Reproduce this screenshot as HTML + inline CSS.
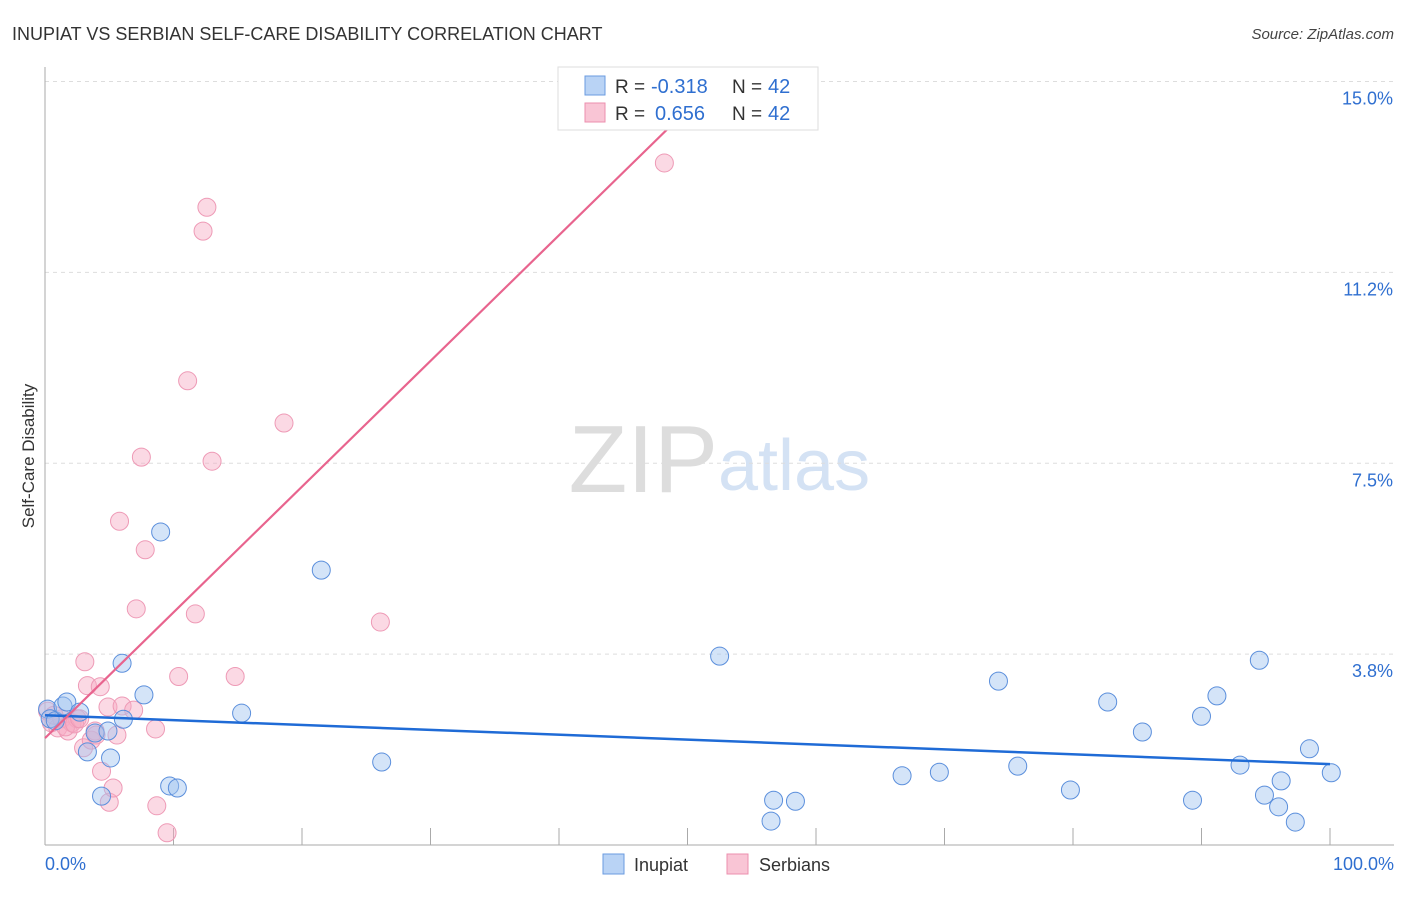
<!DOCTYPE html>
<html><head><meta charset="utf-8"><style>
body{margin:0;background:#fff;font-family:"Liberation Sans",sans-serif}
svg text{font-family:"Liberation Sans",sans-serif}
</style></head><body>
<svg id="c" width="1406" height="892">
<text x="12" y="40" font-size="18" fill="#333">INUPIAT VS SERBIAN SELF-CARE DISABILITY CORRELATION CHART</text>
<text x="1394" y="39" font-size="15" fill="#444" font-style="italic" text-anchor="end">Source: ZipAtlas.com</text>
<text x="34" y="456" font-size="17" fill="#333" text-anchor="middle" transform="rotate(-90 34 456)">Self-Care Disability</text>
<text x="718" y="492" font-size="96" fill="#ddd" text-anchor="end" font-family="Liberation Serif">ZIP</text>
<text x="718" y="490" font-size="72" fill="#d4e2f4">atlas</text>
<g id="grid"></g><g id="marks"></g>
<g>
<rect x="558" y="67" width="260" height="63" fill="#fff" stroke="#ddd"/>
<rect x="585" y="76" width="20" height="19" fill="#b9d3f5" stroke="#6a9be0"/>
<rect x="585" y="103" width="20" height="19" fill="#f9c5d5" stroke="#ec8fae"/>
<text x="615" y="93" font-size="19" fill="#333">R =</text>
<text x="651" y="93" font-size="20" fill="#2f6fd0">-0.318</text>
<text x="732" y="93" font-size="19" fill="#333">N =</text>
<text x="768" y="93" font-size="20" fill="#2f6fd0">42</text>
<text x="615" y="120" font-size="19" fill="#333">R =</text>
<text x="655" y="120" font-size="20" fill="#2f6fd0">0.656</text>
<text x="732" y="120" font-size="19" fill="#333">N =</text>
<text x="768" y="120" font-size="20" fill="#2f6fd0">42</text>
</g>
<g>
<rect x="603" y="854" width="21" height="20" fill="#b9d3f5" stroke="#6a9be0"/>
<text x="634" y="871" font-size="18" fill="#333">Inupiat</text>
<rect x="727" y="854" width="21" height="20" fill="#f9c5d5" stroke="#ec8fae"/>
<text x="759" y="871" font-size="18" fill="#333">Serbians</text>
</g>
</svg>
<script>
const yTicks=[15.0,11.2,7.5,3.8];
const yTickVals=[15.0,11.25,7.5,3.75];
const xTickLabels=["0.0%","100.0%"];
const blueX=[0.2,0.4,0.8,1.4,1.7,2.7,3.3,3.9,4.4,5.1,4.9,6.0,6.1,7.7,9.0,9.7,10.3,15.3,21.5,26.2,52.5,56.7,58.4,56.5,66.7,69.6,74.2,75.7,79.8,82.7,85.4,89.3,90.0,91.2,93.0,94.5,94.9,96.0,96.2,97.3,98.4,100.1];
const blueY=[2.67,2.48,2.44,2.73,2.81,2.61,1.83,2.2,0.96,1.71,2.24,3.57,2.47,2.95,6.15,1.16,1.12,2.59,5.4,1.63,3.71,0.88,0.86,0.47,1.36,1.43,3.22,1.55,1.08,2.81,2.22,0.88,2.53,2.93,1.57,3.63,0.98,0.75,1.26,0.45,1.89,1.42];
const pinkX=[0.2,0.5,1.0,1.3,1.8,2.1,2.5,3.1,3.0,3.3,3.6,3.9,4.3,4.4,4.9,5.0,5.3,5.6,5.8,6.0,6.9,7.1,7.5,7.8,8.6,8.7,9.5,10.4,11.1,11.7,12.3,12.6,13.0,14.8,18.6,26.1,48.2,1.6,2.3,0.7,3.97,2.7];
const pinkY=[2.63,2.40,2.30,2.48,2.24,2.40,2.48,3.6,1.91,3.13,2.06,2.24,3.11,1.45,2.71,0.84,1.12,2.16,6.36,2.73,2.65,4.64,7.62,5.8,2.28,0.77,0.24,3.31,9.12,4.54,12.06,12.53,7.54,3.31,8.29,4.38,13.4,2.32,2.38,2.55,2.16,2.48];
const blueLine=[2.55,1.59];
const pinkFit={b:2.1,m:0.247,xEnd:50.4};
const X=v=>45+v*12.85, Y=v=>845-v*50.9;
const NS="http://www.w3.org/2000/svg";
function mk(t,a,p){const e=document.createElementNS(NS,t);for(const k in a)e.setAttribute(k,a[k]);p.appendChild(e);return e;}
const g=document.getElementById('grid'),m=document.getElementById('marks');
yTickVals.forEach((v,i)=>{
 const l=mk('line',{x1:45,x2:1394,y1:Y(v),y2:Y(v),stroke:'#ddd','stroke-dasharray':'4,4'},g);
 
 
 const t=mk('text',{x:1393,y:Y(v)+23,'font-size':18,fill:'#2f6fd0','text-anchor':'end'},g);
 t.textContent=yTicks[i].toFixed(1)+'%';
 
 
});
const ax=mk('line',{x1:45,x2:45,y1:67,y2:845,stroke:'#aaa'},g);


const bx=mk('line',{x1:45,x2:1394,y1:845,y2:845,stroke:'#aaa'},g);


for(let i=0;i<=10;i++){const t=mk('line',{x1:X(i*10),x2:X(i*10),y1:828,y2:845,stroke:'#aaa'},g);
 
 }
[[0,'start',45],[100,'end',1394]].forEach((d,i)=>{const t=mk('text',{x:d[2],y:870,'font-size':18,fill:'#2f6fd0','text-anchor':d[1]},g);t.textContent=xTickLabels[i];
 
 });
pinkX.forEach((x,i)=>{const c=mk('circle',{cx:X(x),cy:Y(pinkY[i]),r:9,fill:'rgba(246,170,195,0.45)',stroke:'#ee9ab6','stroke-width':1},m);
 
 });
blueX.forEach((x,i)=>{const c=mk('circle',{cx:X(x),cy:Y(blueY[i]),r:9,fill:'rgba(160,195,240,0.45)',stroke:'#5b8fdc','stroke-width':1},m);
 
 });
const bl=mk('line',{x1:X(0),y1:Y(blueLine[0]),x2:X(100),y2:Y(blueLine[1]),stroke:'#1f6bd6','stroke-width':2.5},m);


const pl=mk('line',{x1:X(0),y1:Y(pinkFit.b),x2:X(pinkFit.xEnd),y2:Y(pinkFit.b+pinkFit.m*pinkFit.xEnd),stroke:'#e8648e','stroke-width':2.2},m);


</script>
</body></html>
